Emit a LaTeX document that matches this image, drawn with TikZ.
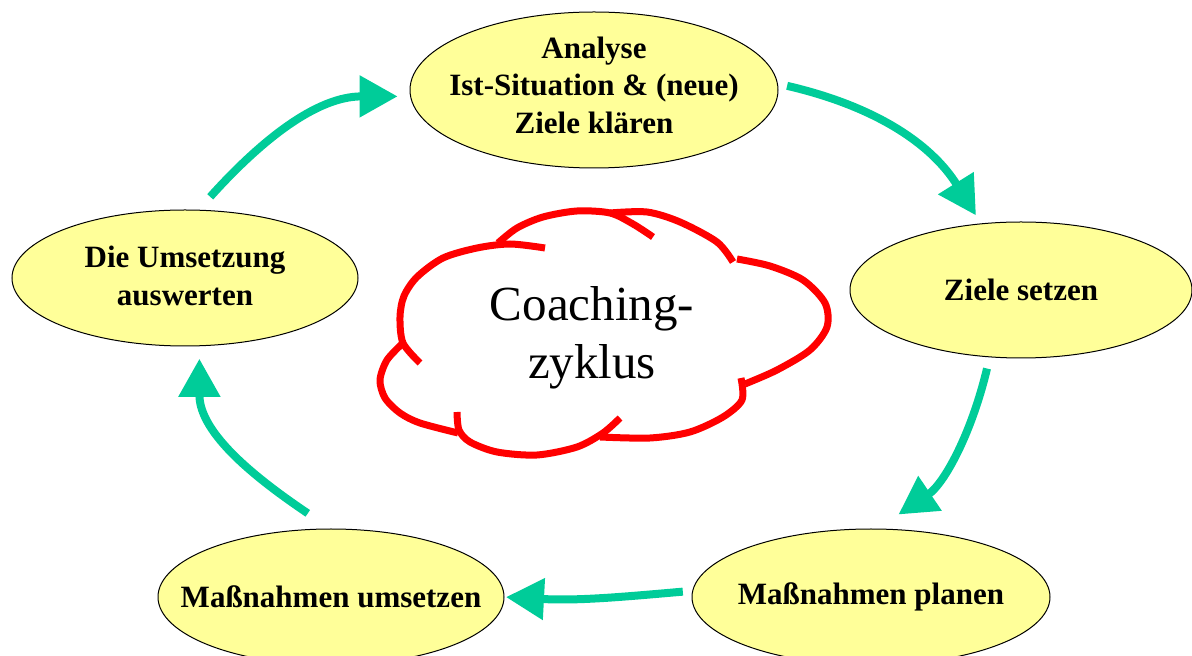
\documentclass[tikz,border=0pt]{standalone}
\usepackage{fontspec}
\setmainfont{Liberation Serif}
\usetikzlibrary{shapes.geometric, arrows.meta}
\definecolor{cycteal}{HTML}{00CC99}
\definecolor{boxyellow}{HTML}{FFFF99}
\definecolor{cloudred}{HTML}{FF0000}
\tikzset{
  stage/.style={ellipse, draw=black, line width=1pt, fill=boxyellow, inner sep=0pt, outer sep=0pt},
  stagetext/.style={font=\bfseries\fontsize{31}{37.5}\selectfont, align=center, inner sep=0pt},
  cycarrow/.style={draw=cycteal, line width=8pt, -{Triangle[length=38pt,width=40pt]}},
  cloudline/.style={draw=cloudred, line width=7pt, line join=round},
}
\begin{document}
\begin{tikzpicture}[x=1pt,y=1pt]
\useasboundingbox (0,0) rectangle (1192,656);

% stages
\node[stage, minimum width=368, minimum height=156,
  label={[stagetext, yshift=5pt]center:{Analyse\\Ist-Situation \& (neue)\\Ziele klären}}] (A) at (594,566) {};
\node[stage, minimum width=342, minimum height=136,
  label={[stagetext]center:{Ziele setzen}}] (B) at (1021,366) {};
\node[stage, minimum width=358, minimum height=136,
  label={[stagetext]center:{Maßnahmen planen}}] (C) at (871,59) {};
\node[stage, minimum width=346, minimum height=136,
  label={[stagetext]center:{Maßnahmen umsetzen}}] (D) at (331,59) {};
\node[stage, minimum width=346, minimum height=136,
  label={[stagetext, yshift=2pt]center:{Die Umsetzung\\auswerten}}] (E) at (185,378) {};

% cycle arrows
\draw[cycarrow, shorten <=10pt, shorten >=10pt] (A.2) to[out=-13, in=122] (B.121.5);
\draw[cycarrow, shorten <=12pt, shorten >=26pt] (B.-115) to[out=-103.5, in=34] (C.85);
\draw[cycarrow, shorten <=10pt, shorten >=2pt] (C.178) to[out=185, in=-3] (D.east);
\draw[cycarrow, shorten <=28pt, shorten >=13pt] (D.north) to[out=146, in=-90] (E.-78);
\draw[cycarrow, shorten <=18pt, shorten >=13pt] (E.79) to[out=48, in=180] (A.182);

% cloud
\begin{scope}[shift={(0,656)}, yscale=-1]
  \draw[cloudline] plot[smooth] coordinates {(420,363) (403,343) (400,317) (404,296) (417,277) (443,258) (477,248) (510,244) (545,248)};
  \draw[cloudline] plot[smooth] coordinates {(498,243) (517,228) (543,217) (577,211) (610,213) (633,224) (653,237)};
  \draw[cloudline] plot[smooth] coordinates {(610,213) (647,212) (680,222) (717,242) (733,262)};
  \draw[cloudline] plot[smooth] coordinates {(737,259) (770,266) (803,280) (825,303) (827,327) (810,350) (777,370) (745,384)};
  \draw[cloudline] plot[smooth] coordinates {(741,378) (742,400) (723,417) (690,432) (650,438) (600,437)};
  \draw[cloudline] plot[smooth] coordinates {(620,418) (603,433) (577,447) (537,455) (497,452) (470,442) (459,430) (457,412)};
  \draw[cloudline] plot[smooth] coordinates {(403,343) (387,360) (380,380) (385,398) (400,413) (420,423) (458,433)};
\end{scope}
\node[font=\fontsize{49}{58}\selectfont, align=center, inner sep=0pt] (T) at (592,318) {Coaching-\\zyklus};
\end{tikzpicture}
\end{document}
